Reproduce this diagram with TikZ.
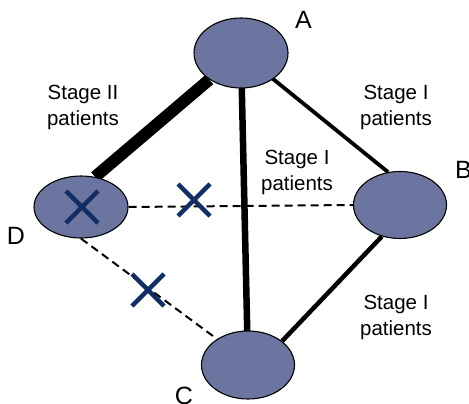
\documentclass[tikz,border=0pt]{standalone}
\usepackage{fontspec}
\setmainfont{Liberation Sans}
\usetikzlibrary{shapes.geometric,calc,backgrounds}
\definecolor{nodefill}{RGB}{107,117,160}
\definecolor{crossblue}{RGB}{18,45,100}
\tikzset{
  patient/.style={ellipse, draw=black, line width=1.1pt, fill=nodefill, inner sep=0pt},
  lbl/.style={font=\fontsize{20.5}{26}\selectfont, align=center, anchor=base, inner sep=0pt},
  letter/.style={font=\fontsize{25}{30}\selectfont, anchor=base, inner sep=0pt},
  link/.style={draw=black, line cap=butt},
  dlink/.style={draw=black, line width=2pt, dash pattern=on 8pt off 5pt},
  xmark/.style={draw=crossblue, line width=4.5pt, line cap=butt}
}
\begin{document}
\begin{tikzpicture}[x=1pt,y=-1pt]
\useasboundingbox (0,0) rectangle (469,404);
\node[patient, minimum width=94pt, minimum height=70pt] (A) at (241,53) {};
\node[patient, minimum width=94pt, minimum height=62pt] (D) at (81,207) {};
\node[patient, minimum width=93pt, minimum height=67pt] (B) at (400,205) {};
\node[patient, minimum width=93pt, minimum height=68pt] (C) at (248,365) {};
% connectors (behind the ellipses)
\begin{scope}[on background layer]
\draw[dlink] (D.east) -- (B.west);
\draw[dlink] (D.south) -- (C.140);
\draw[link, line width=12pt] (A.220) -- (D.65);
\draw[link, line width=6.5pt] (A.center) -- (C.center);
\draw[link, line width=3.8pt] (A.center) -- (B.110);
\draw[link, line width=4.5pt] (B.240) -- (C.35);
\end{scope}
% crosses
\coordinate (x1) at (82,207);
\coordinate (x2) at (194,200);
\coordinate (x3) at (148,290);
\foreach \c in {x1,x2,x3}{
  \draw[xmark] ($(\c)+(-16,-16)$) -- ($(\c)+(16,16)$);
  \draw[xmark] ($(\c)+(-16,16)$) -- ($(\c)+(16,-16)$);
}
% labels
\node[lbl] (l1) at (83,125) {Stage II\\patients};
\node[lbl] (l2) at (396,125) {Stage I\\patients};
\node[lbl] (l3) at (297,190) {Stage I\\patients};
\node[lbl] (l4) at (396,335) {Stage I\\patients};
\node[letter] (tA) at (303.5,29) {A};
\node[letter] (tB) at (463.5,178) {B};
\node[letter] (tD) at (16,244) {D};
\node[letter] (tC) at (184,404) {C};
\end{tikzpicture}
\end{document}
